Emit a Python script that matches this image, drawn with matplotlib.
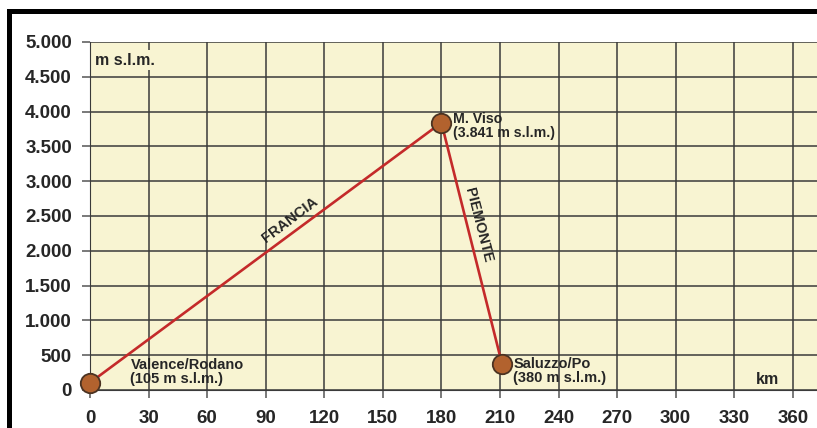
import matplotlib
matplotlib.use("Agg")
import matplotlib.pyplot as plt
from matplotlib.patches import Rectangle

plt.rcParams['font.family'] = ['Liberation Sans', 'DejaVu Sans']

# ---- data ----
km = [0, 180, 211]
quota = [105, 3841, 380]
places = ["Valence/Rodano\n(105 m s.l.m.)",
          "M. Viso\n(3.841 m s.l.m.)",
          "Saluzzo/Po\n(380 m s.l.m.)"]
x_ticks = list(range(0, 361, 30))
y_ticks = list(range(0, 5001, 500))
y_labels = ["0", "500", "1.000", "1.500", "2.000", "2.500", "3.000",
            "3.500", "4.000", "4.500", "5.000"]

BG = "#f8f4d2"
GRID = "#3a3a3a"
TXT = "#262626"
LINE = "#c42a2a"
DOT = "#b2622e"

fig = plt.figure(figsize=(8.17, 4.28), dpi=100)
ax = fig.add_axes([90/817, 38/428, 1 - 90/817, 348/428])
ax.set_facecolor(BG)

ax.set_xlim(0, 372.4)
ax.set_ylim(0, 5000)
ax.set_xticks(x_ticks)
ax.set_yticks(y_ticks)
ax.set_yticklabels(y_labels)
ax.grid(True, color=GRID, lw=1.1)
ax.set_axisbelow(True)
ax.tick_params(length=6, width=1.1, color="#555555", labelsize=13.5,
               labelcolor=TXT)
ax.tick_params(axis="y", pad=7)
ax.tick_params(axis="x", pad=8.5)
for lab in ax.get_xticklabels() + ax.get_yticklabels():
    lab.set_fontweight("bold")
for s in ["top", "right"]:
    ax.spines[s].set_visible(False)
ax.spines["left"].set_color(GRID)
ax.spines["bottom"].set_color(GRID)

# profile line + points
ax.plot(km, quota, color=LINE, lw=1.9, zorder=3, clip_on=False)
ax.plot(km, quota, "o", ms=14, mfc=DOT, mec="#4b3322", mew=1.3,
        zorder=4, clip_on=False)

# labels next to the points
ax.text(20.7, 262, places[0], fontsize=10.5, fontweight="bold", color=TXT,
        va="center", ha="left", linespacing=1.0)
ax.text(186, 3790, places[1], fontsize=10.2, fontweight="bold", color=TXT,
        va="center", ha="left", linespacing=1.0)
ax.text(216.8, 273, places[2], fontsize=10.5, fontweight="bold", color=TXT,
        va="center", ha="left", linespacing=1.0)

# route names
ax.text(102.6, 2440, "FRANCIA", fontsize=10.5, fontweight="bold", color=TXT,
        rotation=37, ha="center", va="center", rotation_mode="anchor")
ax.text(198.9, 2370, "PIEMONTE", fontsize=10.5, fontweight="bold", color=TXT,
        rotation=-75.6, ha="center", va="center", rotation_mode="anchor")

# axis units
ax.text(2.8, 4740, "m s.l.m.", fontsize=11.5, fontweight="bold", color=TXT,
        va="center", ha="left", zorder=5,
        bbox=dict(facecolor=BG, edgecolor="none", pad=2))
ax.text(347, 144, "km", fontsize=11.5, fontweight="bold", color=TXT,
        va="center", ha="center")

# black frame on the top and left edges
fig.patches.append(Rectangle((7/817, 0), 5/817, 419/428, transform=fig.transFigure,
                             facecolor="black", edgecolor="none"))
fig.patches.append(Rectangle((7/817, 414/428), 1, 5/428, transform=fig.transFigure,
                             facecolor="black", edgecolor="none"))

fig.savefig("out.png", dpi=100, facecolor="white")
